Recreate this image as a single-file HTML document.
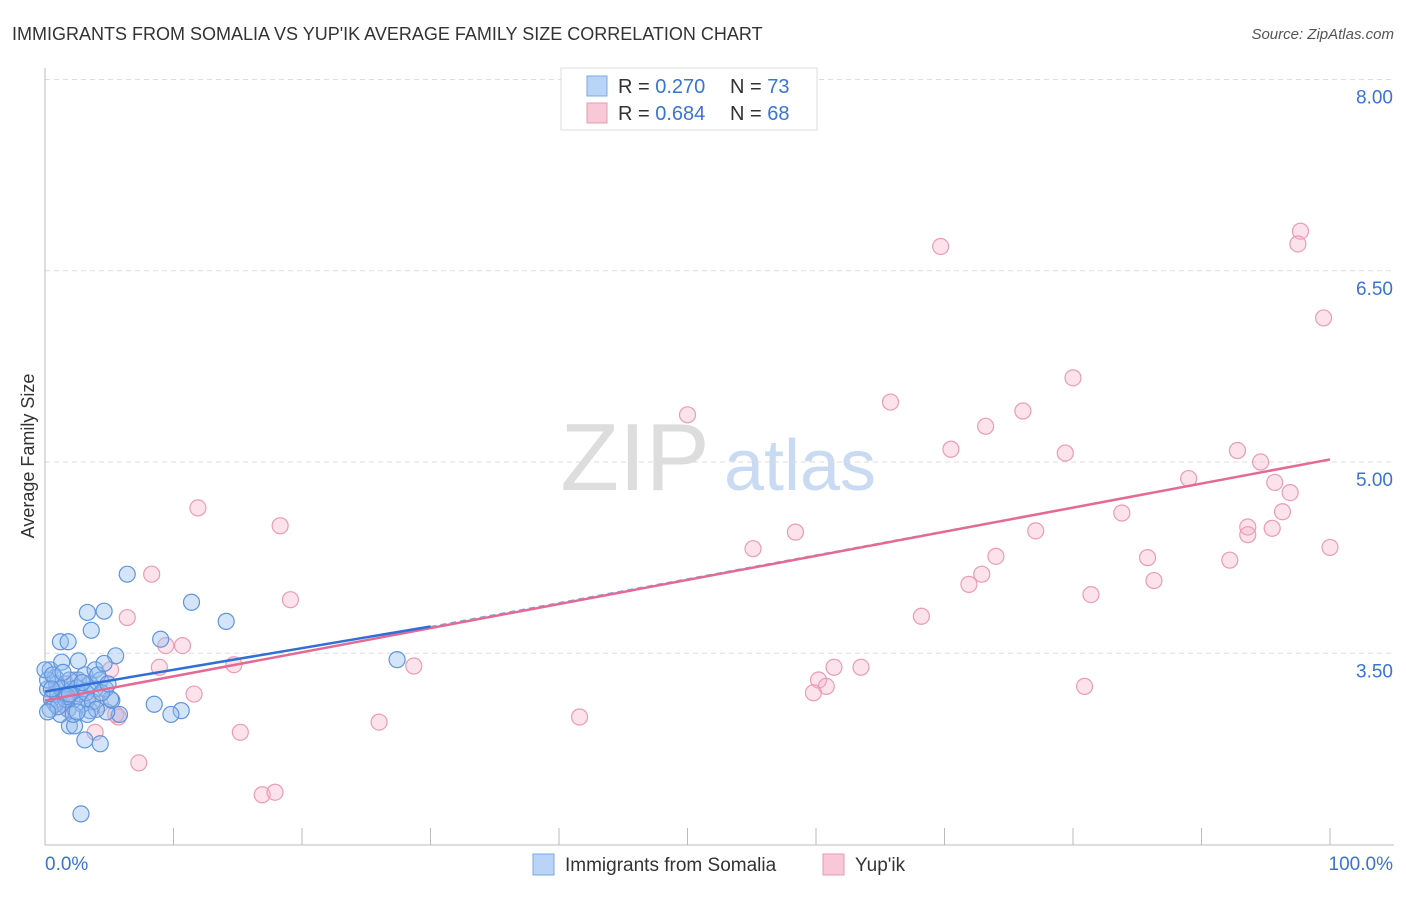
<!DOCTYPE html>
<html><head><meta charset="utf-8"><style>
body{margin:0;background:#fff;font-family:"Liberation Sans",sans-serif;}
svg text{font-family:"Liberation Sans",sans-serif;}
</style></head><body>
<svg id="chart" width="1406" height="892">
<text x="12" y="40" font-size="18" fill="#333">IMMIGRANTS FROM SOMALIA VS YUP'IK AVERAGE FAMILY SIZE CORRELATION CHART</text>
<text x="1394" y="39" font-size="15" fill="#555" font-style="italic" text-anchor="end">Source: ZipAtlas.com</text>
<text x="34" y="456" font-size="18" fill="#333" transform="rotate(-90 34 456)" text-anchor="middle">Average Family Size</text>
<g id="watermark"><text x="635" y="490" font-size="96" fill="#ddd" font-family="Liberation Serif" text-anchor="middle">ZIP</text><text x="800" y="490" font-size="72" fill="#c9dbf2" text-anchor="middle">atlas</text></g>
<g id="grid"></g><g id="axes"></g><g id="pts"></g><g id="lines"></g>
<g>
<rect x="561" y="68" width="256" height="62" fill="#fff" stroke="#ddd"/>
<rect x="587" y="76" width="20" height="20" fill="#b9d4f7" stroke="#7aa7e3"/>
<rect x="587" y="103" width="20" height="20" fill="#f9c8d6" stroke="#e99ab3"/>
<text x="618" y="93" font-size="20" fill="#333">R = <tspan fill="#3a74d0">0.270</tspan><tspan x="730">N = </tspan><tspan fill="#3a74d0">73</tspan></text>
<text x="618" y="120" font-size="20" fill="#333">R = <tspan fill="#3a74d0">0.684</tspan><tspan x="730">N = </tspan><tspan fill="#3a74d0">68</tspan></text>
</g>
<g>
<rect x="533" y="854" width="21" height="21" fill="#b9d4f7" stroke="#7aa7e3"/>
<text x="565" y="871" font-size="19" fill="#333">Immigrants from Somalia</text>
<rect x="823" y="854" width="21" height="21" fill="#f9c8d6" stroke="#e99ab3"/>
<text x="855" y="871" font-size="19" fill="#333">Yup'ik</text>
</g>
</svg>
<script>
const yTicks=[3.5,5.0,6.5,8.0];
const yTickLabels=["3.50","5.00","6.50","8.00"];
const xLabels=["0.0%","100.0%"];
const somaliaX=[6.4,4.6,3.3,3.6,1.2,1.8,2.6,5.5,11.4,14.1,9,27.4,8.5,10.6,9.8,4.3,3.1,2.8,5.8,4.8,1.9,2.3,5.2,3.5,0.4,0.8,1.3,0.2,0.5,1,1.6,2.1,2.6,3.1,3.9,4.3,4.7,5.1,3.9,3.3,2.3,1.8,1.2,0.8,0.4,1.3,1.9,2.7,3.5,4.1,2.9,2.2,1.6,0.9,0.2,0,0.6,1.4,2.5,3.2,3.7,4.4,4.9,4.0,3.3,2.5,1.7,1.0,0.2,0.5,4.6,1.9,2.9];
const somaliaY=[4.12,3.83,3.82,3.68,3.59,3.59,3.44,3.48,3.9,3.75,3.61,3.45,3.1,3.05,3.02,2.79,2.82,2.24,3.02,3.04,2.93,2.93,3.13,3.05,3.37,3.31,3.43,3.22,3.14,3.18,3.26,3.22,3.29,3.33,3.37,3.29,3.22,3.14,3.22,3.14,3.14,3.06,3.02,3.1,3.06,3.22,3.29,3.18,3.26,3.33,3.1,3.02,3.14,3.26,3.29,3.37,3.33,3.35,3.23,3.19,3.12,3.19,3.26,3.06,3.02,3.04,3.16,3.08,3.04,3.22,3.42,3.18,3.27];
const yupikX=[69.7,97.7,97.5,99.5,80,65.8,50,76.1,73.2,70.5,79.4,92.8,94.6,89,95.7,96.9,83.8,96.3,93.6,95.5,93.6,77.1,58.4,55.1,74,100,85.8,92.2,72.9,71.9,86.3,81.4,68.2,11.9,18.3,8.3,19.1,6.4,9.4,10.7,8.9,14.7,28.7,61.4,63.5,60.2,60.8,59.8,80.9,11.6,26,41.6,15.2,5.7,3.9,7.3,16.9,17.9,5.1,1.4,1.9,2.7,3.3,0.8,4.3,2.3,1.8,5.5];
const yupikY=[6.69,6.81,6.71,6.13,5.66,5.47,5.37,5.4,5.28,5.1,5.07,5.09,5.0,4.87,4.84,4.76,4.6,4.61,4.49,4.48,4.43,4.46,4.45,4.32,4.26,4.33,4.25,4.23,4.12,4.04,4.07,3.96,3.79,4.64,4.5,4.12,3.92,3.78,3.56,3.56,3.39,3.41,3.4,3.39,3.39,3.29,3.24,3.19,3.24,3.18,2.96,3.0,2.88,3.0,2.88,2.64,2.39,2.41,3.37,3.1,3.2,3.18,3.14,3.19,3.1,3.29,3.06,3.02];
const somaliaLine=[3.2,3.71];  // y at x=0 and x=30
const somaliaDash=[3.71,5.02]; // x=30..100
const yupikLine=[3.13,5.02];
const X=v=>45+v*12.85, Y=v=>462-(v-5)*127.5;
const NS="http://www.w3.org/2000/svg";
function mk(tag,attrs,parent){const e=document.createElementNS(NS,tag);for(const k in attrs)e.setAttribute(k,attrs[k]);document.getElementById(parent).appendChild(e);return e;}
yTicks.forEach((t,i)=>{
 const g=mk('line',{x1:45,x2:1394,y1:Y(t),y2:Y(t),stroke:'#ddd','stroke-dasharray':'5,4'},'grid');
 
 
 const tx=mk('text',{x:1393,y:Y(t)+24,'font-size':19,fill:'#3a74d0','text-anchor':'end'},'axes');tx.textContent=yTickLabels[i];
 
 
});
let a=mk('line',{x1:45,x2:45,y1:68,y2:845,stroke:'#bbb'},'axes');


a=mk('line',{x1:45,x2:1394,y1:845,y2:845,stroke:'#bbb'},'axes');


for(let i=0;i<=10;i++){const t=mk('line',{x1:X(i*10),x2:X(i*10),y1:828,y2:845,stroke:'#bbb'},'axes');
 
 }
let l=mk('text',{x:45,y:870,'font-size':19,fill:'#3a74d0'},'axes');l.textContent=xLabels[0];


l=mk('text',{x:1393,y:870,'font-size':19,fill:'#3a74d0','text-anchor':'end'},'axes');l.textContent=xLabels[1];


yupikX.forEach((x,i)=>{const c=mk('circle',{cx:X(x),cy:Y(yupikY[i]),r:8,fill:'rgba(246,175,198,0.35)',stroke:'#eb9bb5','stroke-width':1.2},'pts');
 
 });
somaliaX.forEach((x,i)=>{const c=mk('circle',{cx:X(x),cy:Y(somaliaY[i]),r:8,fill:'rgba(150,190,240,0.4)',stroke:'#5f95de','stroke-width':1.2},'pts');
 
 });
let ln=mk('line',{x1:X(30),y1:Y(somaliaDash[0]),x2:X(100),y2:Y(somaliaDash[1]),stroke:'#7aa7e3','stroke-width':1.2,'stroke-dasharray':'6,4'},'lines');


ln=mk('line',{x1:X(0),y1:Y(yupikLine[0]),x2:X(100),y2:Y(yupikLine[1]),stroke:'#e46a93','stroke-width':2.5},'lines');


ln=mk('line',{x1:X(0),y1:Y(somaliaLine[0]),x2:X(30),y2:Y(somaliaLine[1]),stroke:'#2f6fd6','stroke-width':2.5},'lines');


</script>
</body></html>
